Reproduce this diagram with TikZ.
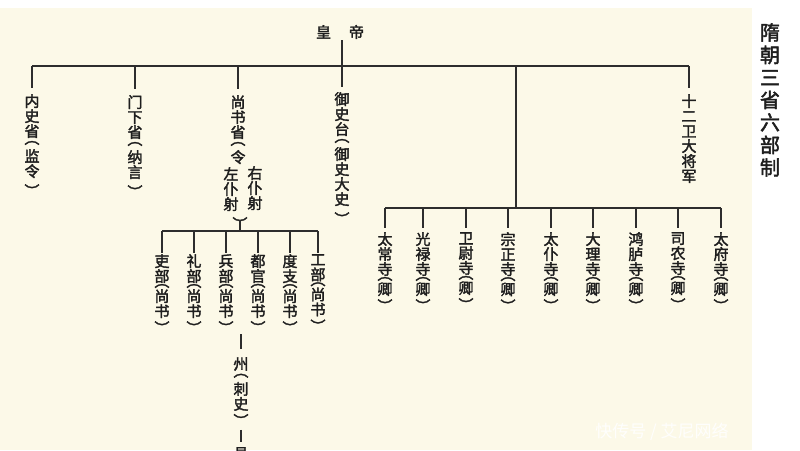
\documentclass[tikz,border=0pt]{standalone}
\usepackage{fontspec}
\newfontfamily\cjk{Noto Sans CJK SC}[AutoFakeBold=2.2]
\newfontfamily\cjkplain{Noto Sans CJK SC}
\definecolor{bgC}{RGB}{252,249,232}
\definecolor{lineC}{RGB}{45,45,45}
\definecolor{txtC}{RGB}{30,30,30}
\newcommand\vo{\\[-8pt]︵\\[3pt]}
\newcommand\vc{\\[5pt]︶}
\newcommand\vot{\\[-10pt]︵\\[0pt]}
\newcommand\vct{\\[2pt]︶}
\begin{document}
\begin{tikzpicture}[x=1pt,y=-1pt,
  ln/.style={draw=lineC, line width=1.5pt},
  vt/.style={anchor=north, align=center, inner sep=0pt, text=txtC,
    font=\cjk\bfseries\fontsize{15}{15}\selectfont},
]
\useasboundingbox (0,0) rectangle (800,450);
\fill[white] (0,0) rectangle (800,450);
\fill[bgC] (0,8) rectangle (752,450);

% title
\node[anchor=north, align=center, inner sep=0pt, text=txtC,
  font=\cjk\bfseries\fontsize{20}{22.5}\selectfont] (title) at (770,23)
  {隋\\朝\\三\\省\\六\\部\\制};

% emperor
\node[font=\cjk\bfseries\fontsize{15}{15}\selectfont, text=txtC, inner sep=1pt] (emp) at (340,32) {皇\hspace{1.2em}帝};

% first level
\node[vt] (nei) at (32,94) {内\\史\\省\vo 监\\令\vc};
\node[vt] (men) at (135,95) {门\\下\\省\vo 纳\\言\vc};
\node[vt] (shang) at (238,95) {尚\\书\\省\vo 令};
\node[vt] (you) at (255,166) {右\\仆\\射};
\node[vt] (zuo) at (231,167) {左\\仆\\射};
\node[vt] (pr) at (240,217) {︶};
\node[vt] (yu) at (342,92) {御\\史\\台\vo 御\\史\\大\\史\vc};
\node[vt] (wei) at (689,94) {十\\二\\卫\\大\\将\\军};

\coordinate (hL) at (32,66);
\coordinate (hR) at (689,66);
\coordinate (hM) at (516,66);
\coordinate (hM2) at (516,208);
\draw[ln] (hL) -- (hR);
\draw[ln] (yu.north |- emp.south) -- ([yshift=5pt]yu.north);
\foreach \n in {nei,men,shang,wei}
  \draw[ln] (\n.north |- hL) -- ([yshift=6pt]\n.north);
\draw[ln] (hM) -- (hM2);

% nine si
\coordinate (sL) at (385,208);
\coordinate (sR) at (721,208);
\draw[ln] (sL) -- (sR);
\foreach \i/\x/\a/\b in {1/385/太/常,2/423/光/禄,3/466/卫/尉,4/508/宗/正,5/551/太/仆,6/593/大/理,7/636/鸿/胪,8/678/司/农,9/721/太/府}{
  \node[vt] (s\i) at (\x,232) {\a\\\b\\寺\vot 卿\vct};
  \draw[ln] (s\i.north |- sL) -- ([yshift=4pt]s\i.north);
}

% six bu
\coordinate (bL) at (162,231);
\coordinate (bR) at (318,231);
\draw[ln] (bL) -- (bR);
\draw[ln] ([yshift=3pt]pr.center) -- (pr.center |- bL);
\foreach \i/\x/\a/\b in {1/162/吏/部,2/194/礼/部,3/226/兵/部,4/258/都/官,5/290/度/支,6/318/工/部}{
  \node[vt] (b\i) at (\x,254) {\a\\\b\vot 尚\\书\vct};
  \draw[ln] (b\i.north |- bL) -- ([yshift=1pt]b\i.north);
}

% zhou / xian
\coordinate (zt) at (241,334);
\node[vt] (zhou) at (241,357) {州\vo 刺\\史\vct};
\node[vt] (xian) at (241,447) {县};
\draw[ln] (zt) -- ([yshift=8pt]zhou.north);
\draw[ln] ([yshift=-3pt]zhou.south) -- ([yshift=5pt]xian.north);

% watermark
\node[font=\cjkplain\fontsize{17}{17}\selectfont, text=white, opacity=0.9, inner sep=0pt] (wm) at (662,432) {快传号 / 艾尼网络};
\end{tikzpicture}
\end{document}
